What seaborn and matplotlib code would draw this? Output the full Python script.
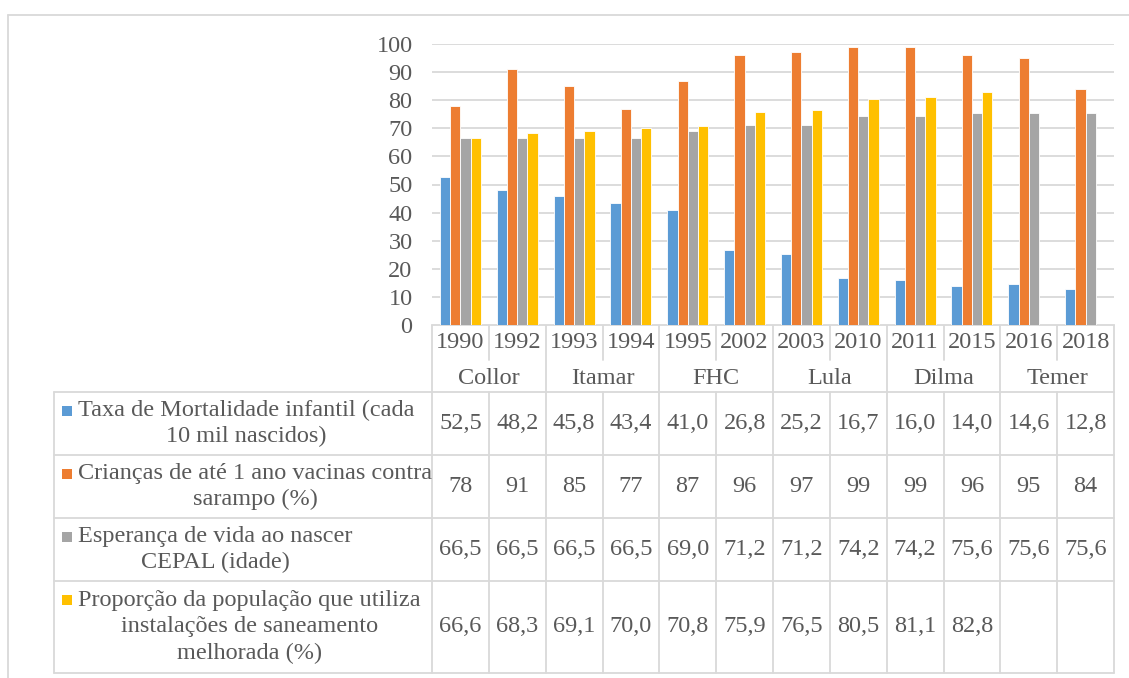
import pandas as pd
import matplotlib.pyplot as plt
import seaborn as sns
import numpy as np

# Data
years = ['1990', '1992', '1993', '1994', '1995', '2002', '2003', '2010', '2011', '2015', '2016', '2018']
governos = ['Collor', 'Itamar', 'FHC', 'Lula', 'Dilma', 'Temer']
mortalidade = [52.5, 48.2, 45.8, 43.4, 41.0, 26.8, 25.2, 16.7, 16.0, 14.0, 14.6, 12.8]
vacinas = [78, 91, 85, 77, 87, 96, 97, 99, 99, 96, 95, 84]
esperanca = [66.5, 66.5, 66.5, 66.5, 69.0, 71.2, 71.2, 74.2, 74.2, 75.6, 75.6, 75.6]
saneamento = [66.6, 68.3, 69.1, 70.0, 70.8, 75.9, 76.5, 80.5, 81.1, 82.8, np.nan, np.nan]
series_names = [
    'Taxa de Mortalidade infantil (cada\n10 mil nascidos)',
    'Crianças de até 1 ano vacinas contra\nsarampo (%)',
    'Esperança de vida ao nascer\nCEPAL (idade)',
    'Proporção da população que utiliza\ninstalações de saneamento\nmelhorada (%)',
]
series_values = [mortalidade, vacinas, esperanca, saneamento]
colors = ['#5B9BD5', '#ED7D31', '#A5A5A5', '#FFC000']

sns.set_theme(style="white")
plt.rcParams['font.family'] = ['Liberation Serif', 'DejaVu Serif']
TXT = '#595959'
LINE = '#D9D9D9'
FS = 17.5

rows = []
for name, vals in zip(series_names, series_values):
    for y, v in zip(years, vals):
        rows.append({'ano': y, 'serie': name, 'valor': v})
df = pd.DataFrame(rows)

W, H = 1129, 678
fig = plt.figure(figsize=(W / 100, H / 100), dpi=100)

# layout in pixels
x0, x1 = 432, 1114
y_top, y_zero = 44, 325
leg_x = 54
col_w = (x1 - x0) / len(years)
y_year_end = 360
y_tab = 392
row_edges = [392, 455, 518, 581, 673]

# background frame / table axes (pixel coordinates)
tab = fig.add_axes([0, 0, 1, 1])
tab.set_xlim(0, W)
tab.set_ylim(H, 0)
tab.axis('off')
lw = 1.3
tab.plot([8, W], [15, 15], color=LINE, lw=lw)
tab.plot([8, 8], [15, H], color=LINE, lw=lw)

# bar chart axes
ax = fig.add_axes([x0 / W, (H - y_zero) / H, (x1 - x0) / W, (y_zero - y_top) / H])
sns.barplot(data=df, x='ano', y='valor', hue='serie', order=years, hue_order=series_names,
            palette=colors, saturation=1, width=0.72, edgecolor='white', linewidth=0.6,
            legend=False, ax=ax)
ax.set_ylim(0, 100)
ax.set_xlim(-0.5, len(years) - 0.5)
ax.set_yticks(range(0, 101, 10))
ax.yaxis.grid(True, color=LINE, lw=lw)
ax.set_axisbelow(True)
ax.set_xticks([])
ax.set_xlabel('')
ax.set_ylabel('')
ax.tick_params(axis='y', length=0, pad=14, labelsize=FS, labelcolor=TXT)
for s in ax.spines.values():
    s.set_visible(False)

# category axis: years and governments
tab.plot([x0, x1], [y_zero, y_zero], color=LINE, lw=lw)
for i, y in enumerate(years):
    cx = x0 + (i + 0.5) * col_w
    tab.text(cx, 342, y, ha='center', va='center', fontsize=FS, color=TXT)
for i in range(len(years) + 1):
    xx = x0 + i * col_w
    bottom = row_edges[-1] if i % 2 == 0 else y_year_end
    tab.plot([xx, xx], [y_zero, bottom], color=LINE, lw=lw)
    if i % 2 == 1:
        tab.plot([xx, xx], [y_tab, row_edges[-1]], color=LINE, lw=lw)
for g, gov in enumerate(governos):
    cx = x0 + (2 * g + 1) * col_w
    tab.text(cx, 378, gov, ha='center', va='center', fontsize=FS, color=TXT)

# data table
for ye in row_edges:
    tab.plot([leg_x, x1], [ye, ye], color=LINE, lw=lw)
tab.plot([leg_x, leg_x], [y_tab, row_edges[-1]], color=LINE, lw=lw)

for r, (name, vals) in enumerate(zip(series_names, series_values)):
    top, bot = row_edges[r], row_edges[r + 1]
    cy = (top + bot) / 2
    nlines = name.count('\n') + 1
    first_y = cy - (nlines - 1) * 28 / 2
    tab.add_patch(plt.Rectangle((62, first_y - 4), 10, 10, color=colors[r], lw=0))
    tab.text(78, cy, name, ha='left', va='center', multialignment='center',
             fontsize=FS, color=TXT, linespacing=1.33)
    for i, v in enumerate(vals):
        if pd.isna(v):
            continue
        label = f'{v:d}' if isinstance(v, int) else f'{v:.1f}'.replace('.', ',')
        tab.text(x0 + (i + 0.5) * col_w, cy, label, ha='center', va='center',
                 fontsize=FS, color=TXT)

fig.savefig('out.png', dpi=100)
